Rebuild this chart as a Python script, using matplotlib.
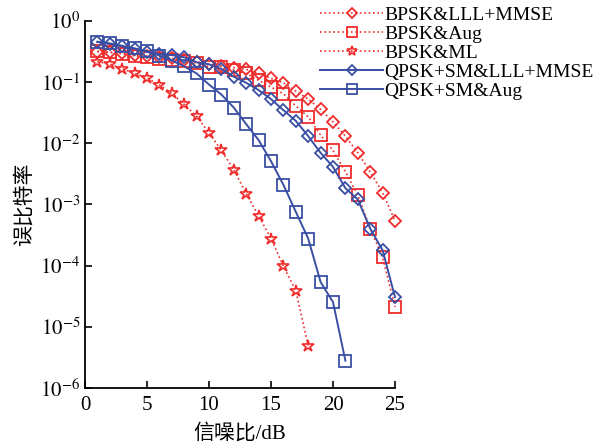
import numpy as np
import matplotlib
matplotlib.use("Agg")
import matplotlib.pyplot as plt

plt.rcParams['font.family'] = ['Liberation Serif', 'Noto Sans CJK SC']
plt.rcParams['mathtext.fontset'] = 'stix'

snr = np.arange(1, 26)

# BPSK curves (red, dotted)
bpsk_lll = [0.315, 0.307, 0.296, 0.278, 0.268, 0.26, 0.245, 0.23, 0.216, 0.198,
            0.184, 0.173, 0.162, 0.139, 0.115, 0.0977, 0.0715, 0.0529, 0.0359, 0.0225,
            0.0131, 0.007, 0.00342, 0.00156, 5.4e-4]
bpsk_aug = [0.32, 0.31, 0.29, 0.27, 0.26, 0.24, 0.23, 0.22, 0.205, 0.179,
            0.18, 0.158, 0.139, 0.107, 0.0832, 0.0646, 0.0409, 0.0271, 0.0136, 0.00765,
            0.00344, 0.00142, 4.05e-4, 1.36e-4, 2.12e-5]
bpsk_ml = [0.216, 0.198, 0.166, 0.139, 0.118, 0.0897, 0.0656, 0.0433, 0.0277, 0.0148,
           0.00765, 0.0037, 0.00151, 6.5e-4, 2.78e-4, 9.8e-5, 3.9e-5, 4.9e-6]

# QPSK+SM curves (blue, solid)
qpsk_lll = [0.453, 0.42, 0.383, 0.348, 0.311, 0.288, 0.278, 0.255, 0.211, 0.196,
            0.164, 0.123, 0.0977, 0.0742, 0.0529, 0.0349, 0.0233, 0.0131, 0.007, 0.00412,
            0.00185, 0.00121, 4.05e-4, 1.79e-4, 3.07e-5]
qpsk_aug = [0.458, 0.431, 0.394, 0.357, 0.323, 0.272, 0.226, 0.181, 0.139, 0.0914,
            0.0627, 0.0384, 0.0206, 0.0113, 0.00511, 0.0021, 7.6e-4, 2.78e-4, 5.4e-5, 2.54e-5,
            2.8e-6]

red = '#f02c2c'
blue = '#3a4fa3'

fig = plt.figure(figsize=(5.93, 4.48), dpi=100)
ax = fig.add_axes([85/593, 60/448, 310/593, 367/448])

ax.plot(snr, bpsk_lll, ':', color=red, marker='D', mfc='none', ms=6.5, mew=1.3,
        lw=1.2, label='BPSK&LLL+MMSE', clip_on=False)
ax.plot(snr, bpsk_aug, ':', color=red, marker='s', mfc='none', ms=8.5, mew=1.3,
        lw=1.2, label='BPSK&Aug', clip_on=False)
ax.plot(snr[:len(bpsk_ml)], bpsk_ml, ':', color=red, marker='*', mfc='none', ms=9,
        mew=1.2, lw=1.2, label='BPSK&ML', clip_on=False)
ax.plot(snr, qpsk_lll, '-', color=blue, marker='D', mfc='none', ms=6.5, mew=1.3,
        lw=1.4, label='QPSK+SM&LLL+MMSE', clip_on=False)
ax.plot(snr[:len(qpsk_aug)], qpsk_aug, '-', color=blue, marker='s', mfc='none', ms=8.5,
        mew=1.3, lw=1.4, label='QPSK+SM&Aug', clip_on=False)

ax.set_yscale('log')
ax.set_xlim(0, 25)
ax.set_ylim(1e-6, 1)
ax.set_xticks([0, 5, 10, 15, 20, 25])
ax.set_yticks([1e-6, 1e-5, 1e-4, 1e-3, 1e-2, 1e-1, 1])
ax.set_yticklabels([r'$10^{-6}$', r'$10^{-5}$', r'$10^{-4}$', r'$10^{-3}$',
                    r'$10^{-2}$', r'$10^{-1}$', r'$10^{0}$'])
ax.minorticks_off()
ax.tick_params(direction='in', length=5, width=1.2, labelsize=15)
ax.tick_params(axis='x', pad=6)
for s in ['top', 'right']:
    ax.spines[s].set_visible(False)
for s in ['left', 'bottom']:
    ax.spines[s].set_linewidth(1.3)

ax.set_xlabel('信噪比/dB', fontsize=15, labelpad=6)
ax.set_ylabel('误比特率', fontsize=15, labelpad=4)

fig.legend(loc='upper left', bbox_to_anchor=(318/593, 0.99), frameon=False,
           fontsize=14, handlelength=3.25, handletextpad=0.08, labelspacing=0.07,
           borderpad=0.1, borderaxespad=0, markerscale=0.8)

fig.savefig('out.png', dpi=100)
